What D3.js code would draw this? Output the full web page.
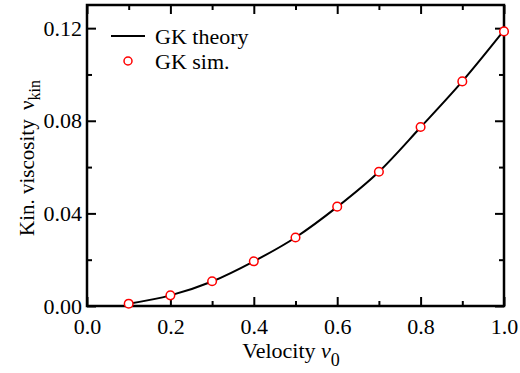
<!DOCTYPE html>
<html>
<head>
<meta charset="utf-8">
<script src="https://cdn.jsdelivr.net/npm/d3@7"></script>
<style>
  body { margin: 0; background: #fff; }
  svg text { font-family: "Liberation Serif", "Times New Roman", serif; }
</style>
</head>
<body>
<div id="wrapper"></div>
<script>
// data
const velocity = [0.1, 0.2, 0.3, 0.4, 0.5, 0.6, 0.7, 0.8, 0.9, 1.0]
const theoryVisc = [0.0010, 0.0046, 0.0106, 0.0193, 0.0296, 0.0428, 0.0580, 0.0772, 0.0970, 0.1190]
const simVisc = [0.0010, 0.0046, 0.0107, 0.0193, 0.0296, 0.0429, 0.0580, 0.0773, 0.0970, 0.1186]
const xMajorTicks = [0.0, 0.2, 0.4, 0.6, 0.8, 1.0]
const xMinorTicks = [0.1, 0.3, 0.5, 0.7, 0.9]
const yMajorTicks = [0.00, 0.04, 0.08, 0.12]
const yMinorTicks = [0.02, 0.06, 0.10]
const legendLabels = ["GK theory", "GK sim."]

const serif = "'Liberation Serif', 'Times New Roman', serif"

const dimensions = {
    width: 520,
    height: 373,
    margin: { top: 5, right: 16, bottom: 67, left: 87 },
}
dimensions.boundedWidth = dimensions.width - dimensions.margin.left - dimensions.margin.right
dimensions.boundedHeight = dimensions.height - dimensions.margin.top - dimensions.margin.bottom

const svg = d3.select("#wrapper")
    .append("svg")
    .attr("width", dimensions.width)
    .attr("height", dimensions.height)
    .attr("font-family", serif)

const bounds = svg.append("g")
    .attr("transform", `translate(${dimensions.margin.left},${dimensions.margin.top})`)

const xScale = d3.scaleLinear()
    .domain([0, 1])
    .range([0, dimensions.boundedWidth])

const yScale = d3.scaleLinear()
    .domain([0, 0.13])
    .range([dimensions.boundedHeight, 0])

// axes: major + minor ticks, pointing inwards, on all four sides
function styleAxis(g) {
    g.attr("font-family", serif).attr("font-size", 22)
    g.select(".domain").remove()
    g.selectAll("line").attr("stroke", "#000").attr("stroke-width", 2)
    g.selectAll("text").attr("fill", "#000")
}

bounds.append("g")
    .attr("transform", `translate(0,${dimensions.boundedHeight})`)
    .call(d3.axisBottom(xScale).tickValues(xMajorTicks).tickSize(-9).tickPadding(12).tickFormat(d3.format(".1f")))
    .call(styleAxis)
bounds.append("g")
    .attr("transform", `translate(0,${dimensions.boundedHeight})`)
    .call(d3.axisBottom(xScale).tickValues(xMinorTicks).tickSize(-5).tickFormat(""))
    .call(styleAxis)
bounds.append("g")
    .call(d3.axisTop(xScale).tickValues(xMajorTicks).tickSize(-9).tickFormat(""))
    .call(styleAxis)
bounds.append("g")
    .call(d3.axisTop(xScale).tickValues(xMinorTicks).tickSize(-5).tickFormat(""))
    .call(styleAxis)

bounds.append("g")
    .call(d3.axisLeft(yScale).tickValues(yMajorTicks).tickSize(-9).tickPadding(5).tickFormat(d3.format(".2f")))
    .call(styleAxis)
bounds.append("g")
    .call(d3.axisLeft(yScale).tickValues(yMinorTicks).tickSize(-5).tickFormat(""))
    .call(styleAxis)
bounds.append("g")
    .attr("transform", `translate(${dimensions.boundedWidth},0)`)
    .call(d3.axisRight(yScale).tickValues(yMajorTicks).tickSize(-9).tickFormat(""))
    .call(styleAxis)
bounds.append("g")
    .attr("transform", `translate(${dimensions.boundedWidth},0)`)
    .call(d3.axisRight(yScale).tickValues(yMinorTicks).tickSize(-5).tickFormat(""))
    .call(styleAxis)

// frame
bounds.append("rect")
    .attr("width", dimensions.boundedWidth)
    .attr("height", dimensions.boundedHeight)
    .attr("fill", "none")
    .attr("stroke", "#000")
    .attr("stroke-width", 2.5)

// theory line
const lineGen = d3.line()
    .x((d, i) => xScale(velocity[i]))
    .y(d => yScale(d))
    .curve(d3.curveMonotoneX)

bounds.append("path")
    .datum(theoryVisc)
    .attr("d", lineGen)
    .attr("fill", "none")
    .attr("stroke", "#000")
    .attr("stroke-width", 2)

// simulation points
bounds.selectAll(".sim")
    .data(simVisc)
    .join("circle")
    .attr("class", "sim")
    .attr("cx", (d, i) => xScale(velocity[i]))
    .attr("cy", d => yScale(d))
    .attr("r", 4.3)
    .attr("fill", "#fff")
    .attr("stroke", "#ff0000")
    .attr("stroke-width", 1.5)

// legend
const legend = bounds.append("g").attr("transform", "translate(24,31)")
legend.append("line")
    .attr("x1", 0).attr("x2", 34)
    .attr("stroke", "#000").attr("stroke-width", 2)
legend.append("text")
    .attr("x", 44).attr("y", 8)
    .attr("font-size", 22)
    .text(legendLabels[0])
legend.append("circle")
    .attr("cx", 17).attr("cy", 25).attr("r", 4)
    .attr("fill", "#fff").attr("stroke", "#ff0000").attr("stroke-width", 1.5)
legend.append("text")
    .attr("x", 44).attr("y", 33)
    .attr("font-size", 22)
    .text(legendLabels[1])

// axis titles
const xTitle = svg.append("text")
    .attr("x", 291)
    .attr("y", 358)
    .attr("text-anchor", "middle")
    .attr("font-size", 22)
xTitle.append("tspan").text("Velocity ")
xTitle.append("tspan").attr("font-style", "italic").text("v")
xTitle.append("tspan").attr("font-size", 18).attr("dy", 8).text("0")

const yTitle = svg.append("text")
    .attr("transform", "translate(34,158) rotate(-90)")
    .attr("text-anchor", "middle")
    .attr("font-size", 21)
yTitle.append("tspan").text("Kin. viscosity \u2009\u03bd")
yTitle.append("tspan").attr("font-size", 16).attr("dy", 6).text("kin")
</script>
</body>
</html>
